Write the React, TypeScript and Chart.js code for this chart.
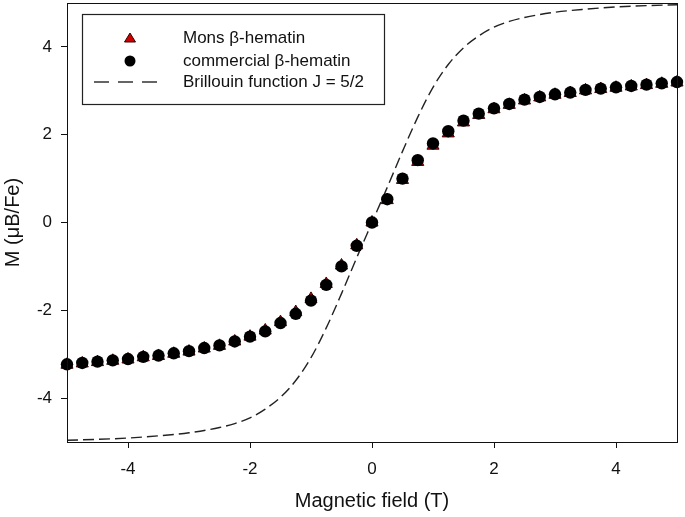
import React, { useEffect, useRef } from "react";
import { Chart, registerables } from "chart.js";

Chart.register(...registerables);

// Magnetic field (T) at which magnetization was measured
const fieldValues = [
  -5, -4.75, -4.5, -4.25, -4, -3.75, -3.5, -3.25, -3, -2.75, -2.5, -2.25, -2, -1.75, -1.5, -1.25, -1, -0.75, -0.5, -0.25,
  0, 0.25, 0.5, 0.75, 1, 1.25, 1.5, 1.75, 2, 2.25, 2.5, 2.75, 3, 3.25, 3.5, 3.75, 4, 4.25, 4.5, 4.75, 5,
];

// M (μB/Fe) - commercial β-hematin
const commercialM = [
  -3.23, -3.2, -3.17, -3.14, -3.11, -3.06, -3.03, -2.98, -2.93, -2.86, -2.8, -2.71, -2.6, -2.48, -2.29, -2.08, -1.78, -1.42, -1.0, -0.53,
  0.0, 0.53, 1.0, 1.42, 1.8, 2.08, 2.32, 2.48, 2.6, 2.7, 2.8, 2.86, 2.92, 2.96, 3.02, 3.05, 3.08, 3.11, 3.14, 3.17, 3.2,
];

// M (μB/Fe) - Mons β-hematin
const monsM = [
  -3.24, -3.21, -3.18, -3.15, -3.12, -3.07, -3.04, -2.99, -2.94, -2.87, -2.81, -2.71, -2.6, -2.46, -2.27, -2.04, -1.74, -1.4, -0.98, -0.52,
  0.0, 0.51, 0.97, 1.38, 1.75, 2.03, 2.28, 2.45, 2.58, 2.68, 2.78, 2.85, 2.91, 2.95, 3.01, 3.04, 3.07, 3.1, 3.13, 3.16, 3.19,
];

// Brillouin function J = 5/2 curve
const brillouinField = [
  -5, -4.5, -4, -3.5, -3, -2.5, -2.25, -2, -1.75, -1.5, -1.25, -1, -0.75, -0.5, -0.25, 0,
  0.25, 0.5, 0.75, 1, 1.25, 1.5, 1.75, 2, 2.25, 2.5, 3, 3.5, 4, 4.5, 5,
];
const brillouinM = [
  -4.96, -4.94, -4.91, -4.86, -4.79, -4.67, -4.58, -4.45, -4.25, -3.98, -3.6, -3.08, -2.4, -1.62, -0.8, 0,
  0.8, 1.62, 2.4, 3.08, 3.6, 3.98, 4.25, 4.45, 4.58, 4.67, 4.79, 4.86, 4.91, 4.94, 4.96,
];

const xTickValues = [-4, -2, 0, 2, 4];
const yTickValues = [-4, -2, 0, 2, 4];

const legendLabels = ["Mons β-hematin", "commercial β-hematin", "Brillouin function J = 5/2"];

const FONT = "'Liberation Sans', Arial, Helvetica, sans-serif";

const framePlugin = {
  id: "frame",
  afterDatasetsDraw(chart: any) {
    const { ctx, chartArea } = chart;
    ctx.save();
    ctx.strokeStyle = "#111";
    ctx.lineWidth = 1;
    ctx.strokeRect(
      Math.round(chartArea.left) + 0.5,
      Math.round(chartArea.top) + 0.5,
      Math.round(chartArea.right - chartArea.left),
      Math.round(chartArea.bottom - chartArea.top)
    );
    ctx.restore();
  },
};

const boxLegendPlugin = {
  id: "boxLegend",
  afterDraw(chart: any) {
    const { ctx, chartArea } = chart;
    const left = chartArea.left + 15;
    const top = chartArea.top + 11;
    const w = 302;
    const h = 90;
    ctx.save();
    ctx.fillStyle = "#fff";
    ctx.fillRect(left, top, w, h);
    ctx.strokeStyle = "#222";
    ctx.lineWidth = 1.2;
    ctx.strokeRect(Math.round(left) + 0.5, Math.round(top) + 0.5, w, h);

    const symX = left + 48;
    const textX = left + 101;
    const rows = [top + 24, top + 47, top + 68];
    const ds = chart.data.datasets;

    // triangle
    ctx.beginPath();
    ctx.moveTo(symX, rows[0] - 5);
    ctx.lineTo(symX + 5.5, rows[0] + 4);
    ctx.lineTo(symX - 5.5, rows[0] + 4);
    ctx.closePath();
    ctx.fillStyle = ds[1].backgroundColor;
    ctx.fill();
    ctx.strokeStyle = ds[1].borderColor;
    ctx.lineWidth = 1;
    ctx.stroke();

    // circle
    ctx.beginPath();
    ctx.arc(symX, rows[1], 5.5, 0, Math.PI * 2);
    ctx.fillStyle = ds[0].backgroundColor;
    ctx.fill();

    // dashed line
    ctx.beginPath();
    ctx.setLineDash([15, 9]);
    ctx.moveTo(symX - 36, rows[2]);
    ctx.lineTo(symX + 30, rows[2]);
    ctx.strokeStyle = "#333";
    ctx.lineWidth = 1.4;
    ctx.stroke();
    ctx.setLineDash([]);

    ctx.fillStyle = "#111";
    ctx.font = `17px ${FONT}`;
    ctx.textBaseline = "middle";
    ctx.textAlign = "left";
    legendLabels.forEach((t, i) => ctx.fillText(t, textX, rows[i]));
    ctx.restore();
  },
};

export default function App() {
  const canvasRef = useRef<HTMLCanvasElement | null>(null);

  useEffect(() => {
    document.body.style.margin = "0";
    const canvas = canvasRef.current;
    if (!canvas) return;

    const commercial = fieldValues.map((x, i) => ({ x, y: commercialM[i] }));
    const mons = fieldValues.map((x, i) => ({ x, y: monsM[i] }));
    const brillouin = brillouinField.map((x, i) => ({ x, y: brillouinM[i] }));

    const chart = new Chart(canvas, {
      type: "scatter",
      data: {
        datasets: [
          {
            label: legendLabels[1],
            data: commercial,
            pointStyle: "circle",
            pointRadius: 6.2,
            backgroundColor: "#000",
            borderColor: "#000",
            borderWidth: 0,
            order: 0,
            clip: false,
          } as any,
          {
            label: legendLabels[0],
            data: mons,
            pointStyle: "triangle",
            pointRadius: 7,
            backgroundColor: "#cc0000",
            borderColor: "#3a0000",
            borderWidth: 1,
            order: 1,
            clip: false,
          } as any,
          {
            label: legendLabels[2],
            data: brillouin,
            showLine: true,
            pointRadius: 0,
            borderColor: "#222",
            borderWidth: 1.4,
            borderDash: [11, 5],
            cubicInterpolationMode: "monotone",
            fill: false,
            order: 2,
          } as any,
        ],
      },
      options: {
        responsive: false,
        animation: false,
        devicePixelRatio: 1,
        layout: { autoPadding: false, padding: { top: 3, right: 8, left: 0, bottom: 0 } },
        plugins: {
          legend: { display: false },
          tooltip: { enabled: false },
        },
        scales: {
          x: {
            type: "linear",
            min: -5,
            max: 5,
            afterBuildTicks: (scale: any) => {
              scale.ticks = xTickValues.map((v) => ({ value: v }));
            },
            afterFit: (scale: any) => {
              scale.height = 75;
              scale.paddingLeft = 0;
              scale.paddingRight = 0;
            },
            grid: {
              display: true,
              drawOnChartArea: false,
              drawTicks: true,
              tickLength: 6,
              color: "#111",
              lineWidth: 1,
            },
            border: { display: true, color: "#111", width: 1 },
            ticks: {
              color: "#111",
              font: { family: FONT, size: 17 },
              padding: 11,
              maxRotation: 0,
            },
            title: {
              display: true,
              text: "Magnetic field (T)",
              color: "#111",
              font: { family: FONT, size: 20 },
              padding: { top: 0, bottom: 4 },
            },
          },
          y: {
            type: "linear",
            min: -5,
            max: 5,
            afterBuildTicks: (scale: any) => {
              scale.ticks = yTickValues.map((v) => ({ value: v }));
            },
            afterFit: (scale: any) => {
              scale.width = 67;
              scale.paddingTop = 0;
              scale.paddingBottom = 0;
            },
            grid: {
              display: true,
              drawOnChartArea: false,
              drawTicks: true,
              tickLength: 6,
              color: "#111",
              lineWidth: 1,
            },
            border: { display: true, color: "#111", width: 1 },
            ticks: {
              color: "#111",
              font: { family: FONT, size: 17 },
              padding: 9,
            },
            title: {
              display: true,
              text: "M (μB/Fe)",
              color: "#111",
              font: { family: FONT, size: 20 },
              padding: { top: 1, bottom: 0 },
            },
          },
        },
      },
      plugins: [framePlugin, boxLegendPlugin],
    } as any);

    return () => chart.destroy();
  }, []);

  return (
    <div style={{ position: "absolute", left: 0, top: 0, width: 685, height: 517, background: "#fff" }}>
      <canvas ref={canvasRef} width={685} height={517} style={{ width: 685, height: 517, display: "block" }} />
    </div>
  );
}
